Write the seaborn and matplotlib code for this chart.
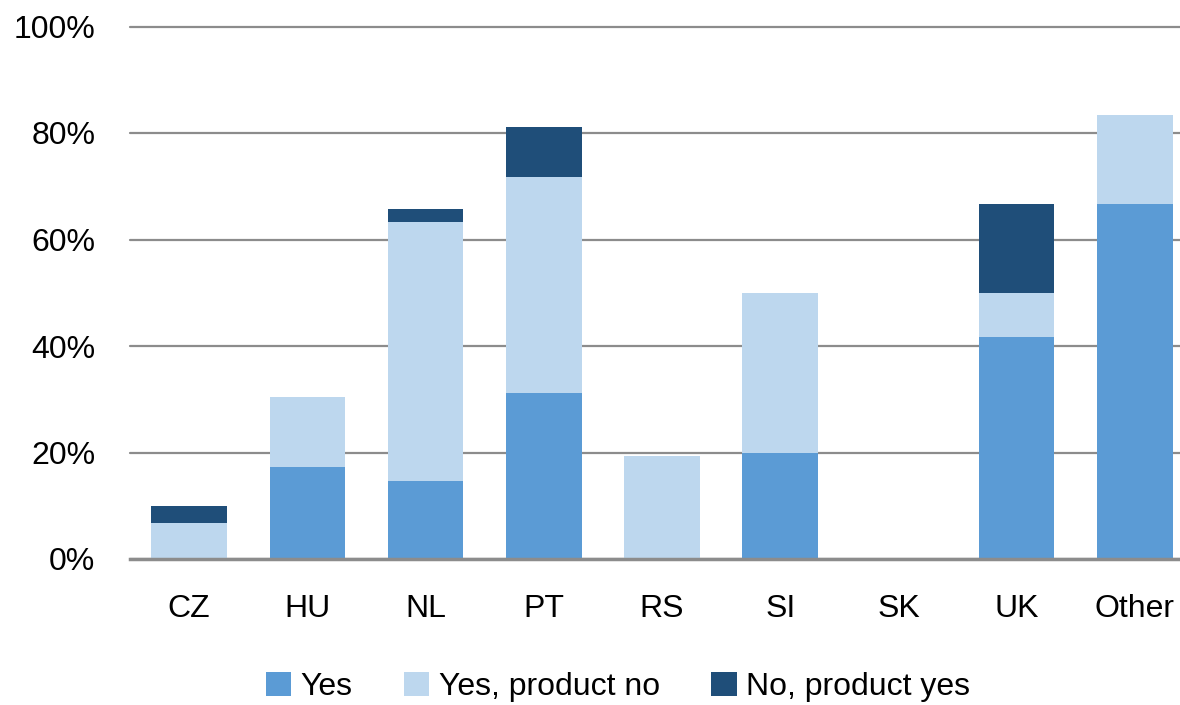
import matplotlib
matplotlib.use("Agg")
import matplotlib.pyplot as plt
from matplotlib.patches import Patch
from matplotlib.ticker import FuncFormatter
import seaborn as sns
import pandas as pd
import numpy as np

categories = ["CZ", "HU", "NL", "PT", "RS", "SI", "SK", "UK", "Other"]
yes = [0.0, 17.3, 14.6, 31.2, 0.0, 20.0, 0.0, 41.7, 66.7]
yes_product_no = [6.7, 13.1, 48.7, 40.6, 19.3, 30.0, 0.0, 8.3, 16.7]
no_product_yes = [3.3, 0.0, 2.5, 9.4, 0.0, 0.0, 0.0, 16.7, 0.0]
series_names = ["Yes", "Yes, product no", "No, product yes"]
colors = ["#5B9BD5", "#BDD7EE", "#1F4E79"]

sns.set_theme(style="white")
plt.rcParams["font.family"] = ["Liberation Sans", "DejaVu Sans"]
plt.rcParams["text.color"] = "#000000"

df = pd.DataFrame({
    "category": categories,
    "yes": yes,
    "ypn": yes_product_no,
    "npy": no_product_yes,
})
df["lvl1"] = df["yes"]
df["lvl2"] = df["yes"] + df["ypn"]
df["lvl3"] = df["lvl2"] + df["npy"]

fig = plt.figure(figsize=(11.8, 7.05), dpi=100)
ax = fig.add_axes([130 / 1180, (705 - 559) / 705, (1194 - 130) / 1180, 532.5 / 705])

# stacked bars drawn as cumulative totals, tallest layer first
for col, color in zip(["lvl3", "lvl2", "lvl1"], colors[::-1]):
    sns.barplot(data=df, x="category", y=col, order=categories, color=color,
                width=0.64, saturation=1, linewidth=0, ax=ax, zorder=3)

ax.set_ylim(0, 100)
ax.set_xlim(-0.5, 8.5)
ax.set_yticks(np.arange(0, 101, 20))
ax.yaxis.set_major_formatter(FuncFormatter(lambda v, p: f"{v:.0f}%"))
ax.grid(axis="y", color="#8C8C8C", linewidth=1.6, zorder=0)
for gl in ax.get_ygridlines():
    gl.set_clip_on(False)
ax.set_axisbelow(True)
for s in ["top", "right", "left"]:
    ax.spines[s].set_visible(False)
ax.spines["bottom"].set_color("#8C8C8C")
ax.spines["bottom"].set_linewidth(2.5)
ax.spines["bottom"].set_zorder(4)
ax.set_xlabel("")
ax.set_ylabel("")
ax.tick_params(axis="y", labelsize=23, pad=25, length=0, colors="#000000")
ax.tick_params(axis="x", labelsize=23, pad=25, length=0, colors="#000000")

handles = [Patch(facecolor=c, edgecolor="none") for c in colors]
fig.legend(handles, series_names, loc="center", bbox_to_anchor=(618 / 1180, 18 / 705),
           ncol=3, frameon=False, fontsize=23, handlelength=0.8, handleheight=0.8,
           handletextpad=0.3, columnspacing=1.6, labelcolor="#000000")

fig.savefig("out.png", dpi=100)
